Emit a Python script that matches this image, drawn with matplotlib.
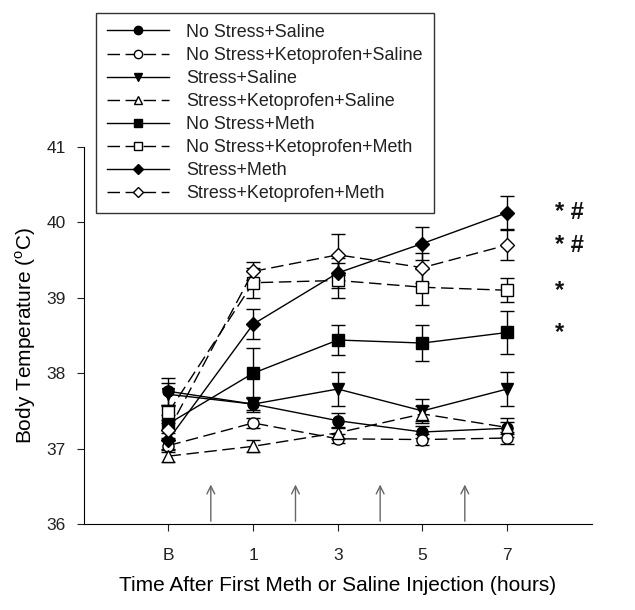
import matplotlib.pyplot as plt

plt.rcParams['font.family'] = ['Liberation Sans', 'DejaVu Sans']

# time points (B = baseline)
times = ['B', '1', '3', '5', '7']
xpos = [0, 1, 2, 3, 4]

labels = ['No Stress+Saline', 'No Stress+Ketoprofen+Saline', 'Stress+Saline',
          'Stress+Ketoprofen+Saline', 'No Stress+Meth', 'No Stress+Ketoprofen+Meth',
          'Stress+Meth', 'Stress+Ketoprofen+Meth']

nostress_saline = [37.76, 37.59, 37.37, 37.22, 37.27]
nostress_keto_saline = [37.04, 37.34, 37.13, 37.12, 37.14]
stress_saline = [37.72, 37.59, 37.79, 37.50, 37.79]
stress_keto_saline = [36.90, 37.03, 37.21, 37.46, 37.28]
nostress_meth = [37.33, 38.00, 38.44, 38.40, 38.54]
nostress_keto_meth = [37.48, 39.20, 39.23, 39.14, 39.10]
stress_meth = [37.12, 38.65, 39.33, 39.72, 40.13]
stress_keto_meth = [37.24, 39.35, 39.57, 39.40, 39.70]

err_nostress_saline = [0.18, 0.08, 0.10, 0.08, 0.08]
err_nostress_keto_saline = [0.08, 0.07, 0.06, 0.07, 0.08]
err_stress_saline = [0.15, 0.10, 0.22, 0.16, 0.22]
err_stress_keto_saline = [0.08, 0.08, 0.08, 0.10, 0.12]
err_nostress_meth = [0.12, 0.33, 0.20, 0.24, 0.28]
err_nostress_keto_meth = [0.10, 0.20, 0.23, 0.24, 0.16]
err_stress_meth = [0.12, 0.20, 0.20, 0.22, 0.22]
err_stress_keto_meth = [0.10, 0.12, 0.27, 0.20, 0.20]

series = [nostress_saline, nostress_keto_saline, stress_saline, stress_keto_saline,
          nostress_meth, nostress_keto_meth, stress_meth, stress_keto_meth]
errors = [err_nostress_saline, err_nostress_keto_saline, err_stress_saline,
          err_stress_keto_saline, err_nostress_meth, err_nostress_keto_meth,
          err_stress_meth, err_stress_keto_meth]
markers = ['o', 'o', 'v', '^', 's', 's', 'D', 'D']
filled = [True, False, True, False, True, False, True, False]

arrow_x = [0.5, 1.5, 2.5, 3.5]
sig_labels = ['* #', '* #', '*', '*']
sig_y = [40.13, 39.70, 39.10, 38.54]

fig = plt.figure(figsize=(6.35, 6.1), dpi=100)
ax = fig.add_axes([0.132, 0.141, 0.8, 0.618])

handles = []
for i in range(8):
    ls = '-' if filled[i] else (0, (9, 4))
    ms = 8 if markers[i] != 'D' else 7
    ax.errorbar(xpos, series[i], yerr=errors[i], fmt='none', ecolor='black',
                elinewidth=1.0, capsize=5, capthick=1.0, zorder=2)
    h, = ax.plot(xpos, series[i], linestyle=ls, color='black', linewidth=1.0,
                 marker=markers[i], markersize=ms, markeredgecolor='black',
                 markeredgewidth=1.0,
                 markerfacecolor='black' if filled[i] else 'white', zorder=3)
    handles.append(h)

for xa in arrow_x:
    ax.annotate('', xy=(xa, 36.56), xytext=(xa, 36.0),
                arrowprops=dict(arrowstyle='->', color='#666666', lw=1.0,
                                mutation_scale=14))

for lab, yv in zip(sig_labels, sig_y):
    ax.text(4.56, yv, lab, fontsize=17, fontweight='bold', va='center', ha='left',
            color='#111111')

ax.set_xlim(-1, 5)
ax.set_ylim(36, 41)
ax.set_xticks(xpos)
ax.set_xticklabels(times)
ax.set_yticks([36, 37, 38, 39, 40, 41])
ax.tick_params(direction='out', length=5, labelsize=12.5, colors='#222222')
ax.tick_params(axis='x', pad=12)
ax.tick_params(axis='y', pad=8)
ax.spines['top'].set_visible(False)
ax.spines['right'].set_visible(False)
ax.set_xlabel('Time After First Meth or Saline Injection (hours)', fontsize=15, labelpad=10)
ax.set_ylabel('Body Temperature ($^{\\mathregular{o}}$C)', fontsize=15, labelpad=6)

leg = fig.legend(handles, labels, loc='upper left', bbox_to_anchor=(96 / 635, 1 - 13 / 610),
                 fontsize=12.9, frameon=True, fancybox=False, edgecolor='black',
                 handlelength=3.5, handletextpad=0.95, labelspacing=0.34,
                 borderpad=0.6, borderaxespad=0, markerscale=0.75)
leg.get_frame().set_linewidth(1.0)
for t in leg.get_texts():
    t.set_color('#222222')

fig.savefig('out.png', dpi=100)
